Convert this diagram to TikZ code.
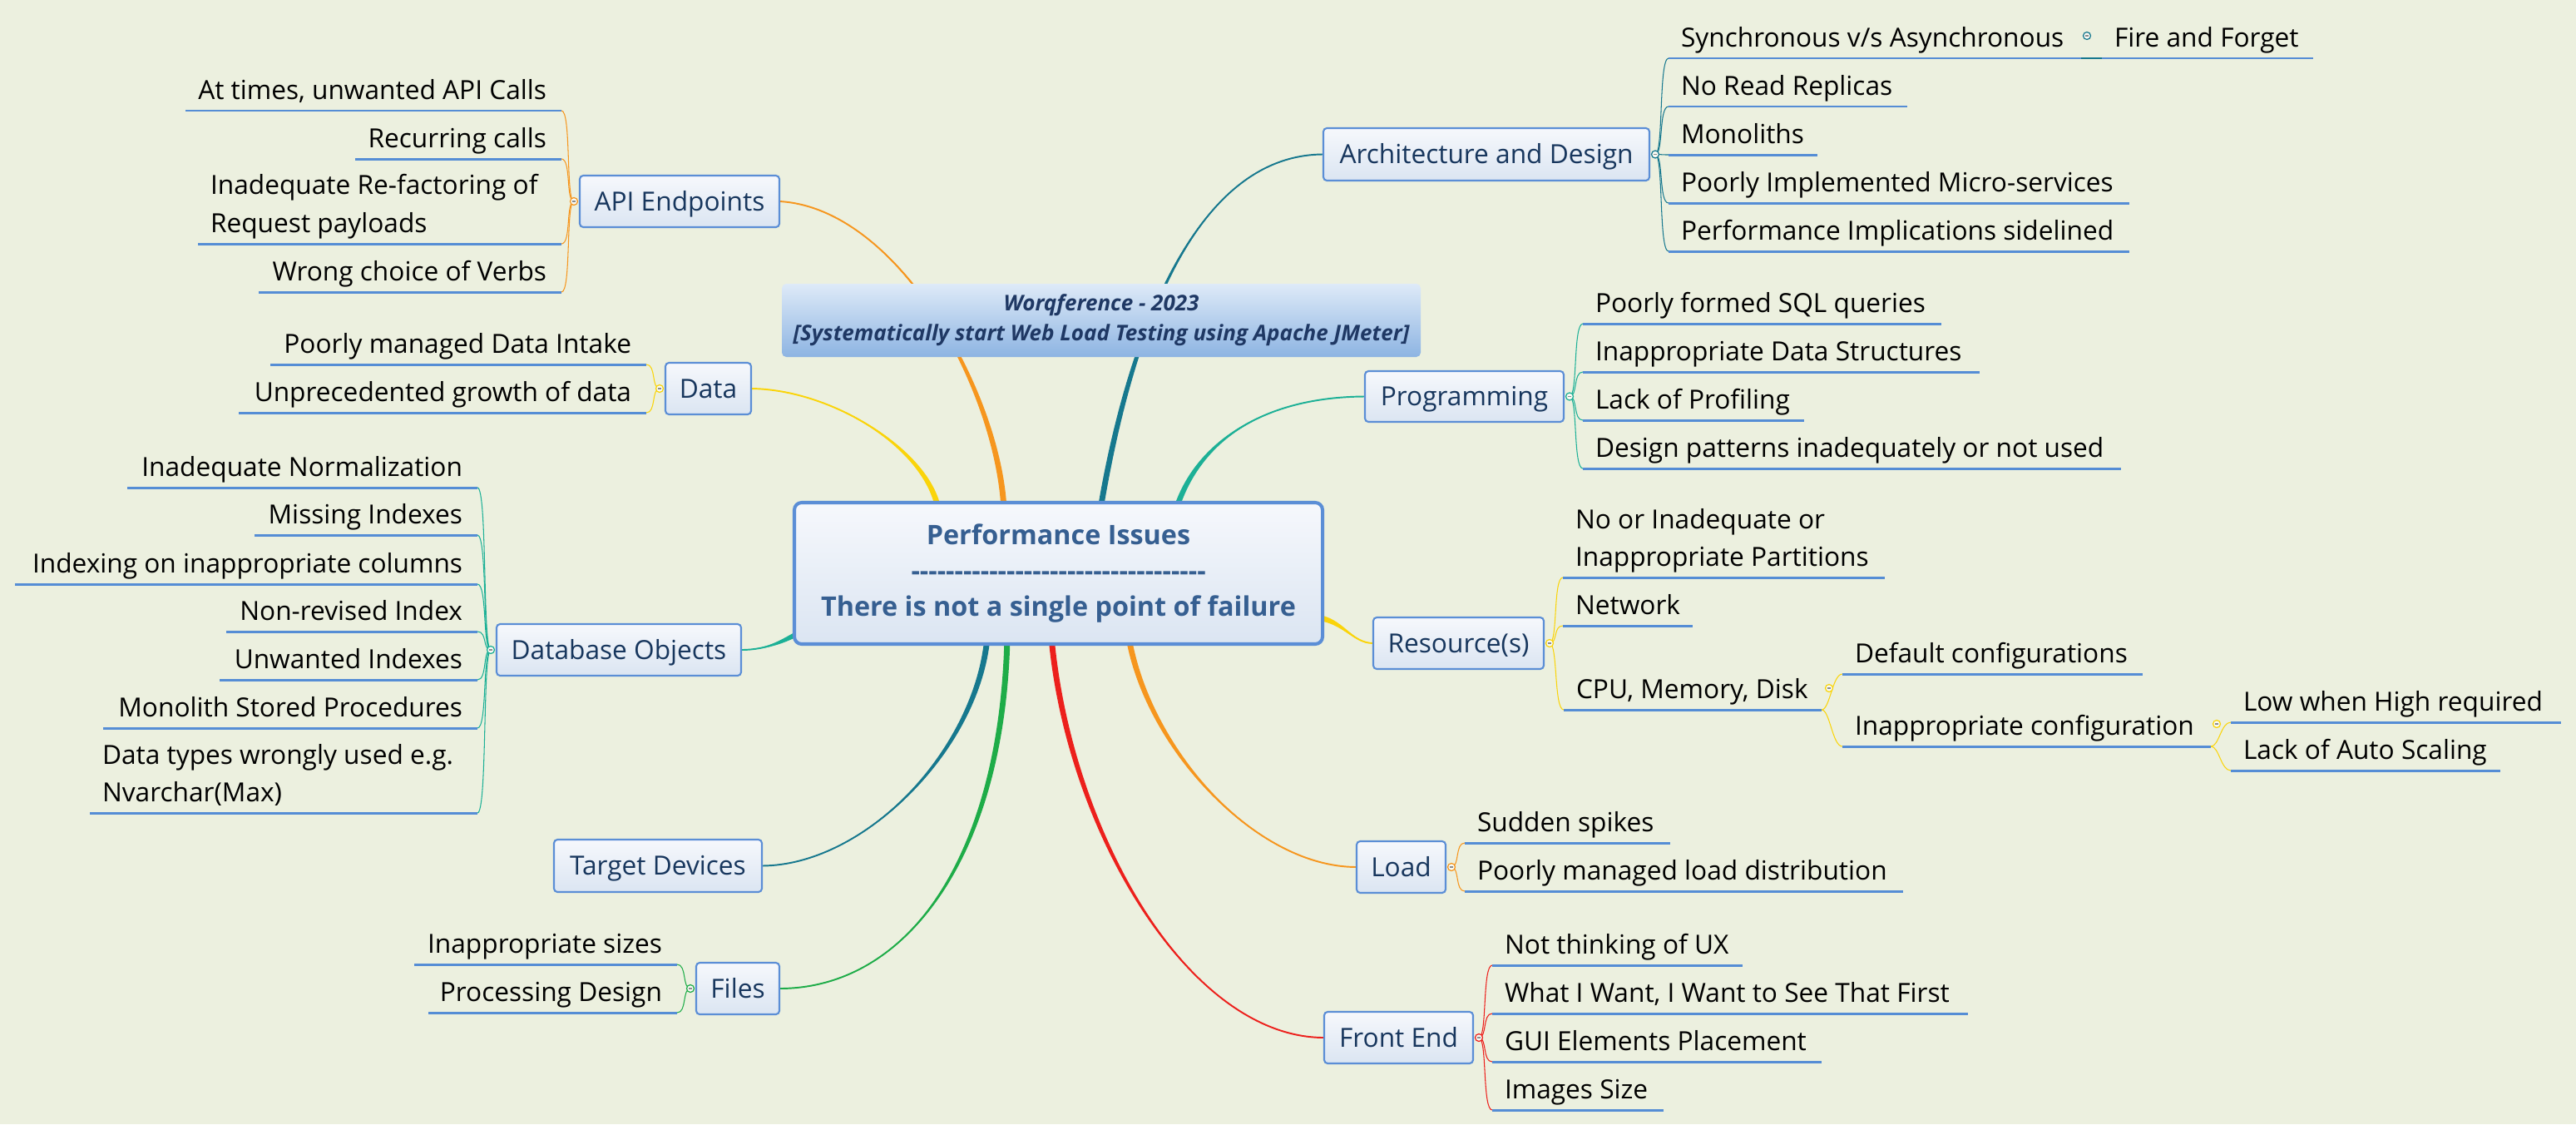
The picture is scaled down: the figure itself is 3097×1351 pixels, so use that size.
\documentclass[tikz,border=0pt]{standalone}
\usepackage{fontspec}
\setmainfont{Open Sans}
\usetikzlibrary{calc}
\definecolor{bgc}{RGB}{236,240,223}
\definecolor{ulblue}{RGB}{85,141,213}
\definecolor{boxblue}{RGB}{91,142,214}
\definecolor{boxtop}{RGB}{246,248,252}
\definecolor{boxbot}{RGB}{219,229,242}
\definecolor{navy}{RGB}{23,54,93}
\definecolor{ctext}{RGB}{54,95,145}
\definecolor{ttop}{RGB}{222,234,248}
\definecolor{tbot}{RGB}{141,180,226}
\definecolor{ttext}{RGB}{31,56,100}
\definecolor{corange}{RGB}{246,150,30}
\definecolor{cyellow}{RGB}{250,212,10}
\definecolor{cdteal}{RGB}{22,120,142}
\definecolor{cteal}{RGB}{28,176,150}
\definecolor{cgreen}{RGB}{30,172,72}
\definecolor{cred}{RGB}{236,32,28}
\definecolor{knobfill}{RGB}{248,250,244}
\pgfdeclarelayer{back}
\pgfdeclarelayer{conn}
\pgfsetlayers{back,conn,main}
\tikzset{
  itemtext/.style={font=\fontsize{9pt}{12.8pt}\selectfont, text=black, inner sep=0pt, outer sep=0pt},
  uline/.style={draw=ulblue, line width=0.85pt},
  thinc/.style={line width=0.3pt},
  branch/.style={draw=boxblue, line width=0.6pt, rounded corners=1.2pt, top color=boxtop, bottom color=boxbot, text=navy, font=\fontsize{9pt}{11pt}\selectfont, text height=6.6pt, text depth=0.3pt, inner sep=0pt, outer sep=0pt},
  centerbox/.style={draw=boxblue, line width=1.15pt, rounded corners=2.5pt, top color=boxtop, bottom color=boxbot, text=ctext, font=\bfseries\fontsize{9.2pt}{12.2pt}\selectfont, inner sep=0pt, outer sep=0pt},
  titlebox/.style={rounded corners=1.5pt, top color=ttop, bottom color=tbot, text=ttext, font=\bfseries\itshape\fontsize{7.4pt}{10.2pt}\selectfont, align=center, inner sep=0pt, outer sep=0pt},
}
\newcommand\two[2]{\begin{tabular}[b]{@{}l@{}}#1\\#2\end{tabular}}
\newcommand\dashline{\foreach \i in {1,...,34}{-\kern0pt}}
% box node: name, x1, y1, x2, y2, text
\newcommand\bnode[6]{\node[branch, minimum width={(#4-#2)*0.01cm}, minimum height={(#5-#3)*0.01cm}] (#1) at ({(#2+#4)/2},{(#3+#5)/2}) {#6};}
% item with text starting at left: name, y, xl, xr, text
\newcommand\itemR[5]{\coordinate (#1-l) at (#3,#2); \coordinate (#1-r) at (#4,#2);
  \draw[uline] (#1-l) -- (#1-r);
  \node[itemtext, anchor=base west] (#1) at (#3+15,#2-14) {#5};}
% item with text ending at right
\newcommand\itemL[5]{\coordinate (#1-l) at (#3,#2); \coordinate (#1-r) at (#4,#2);
  \draw[uline] (#1-l) -- (#1-r);
  \node[itemtext, anchor=base east] (#1) at (#4-18,#2-14) {#5};}
\newcommand\rconn[3]{\draw[#1, thinc] (#2) .. controls ($(#2)+(10,0)$) and ($(#3)+(-12,0)$) .. (#3);}
\newcommand\lconn[3]{\draw[#1, thinc] (#2) .. controls ($(#2)+(-10,0)$) and ($(#3)+(12,0)$) .. (#3);}
\newcommand\knob[2]{\draw[#1, fill=knobfill, line width=0.35pt] (#2) circle[radius=4.5];
  \draw[black!45, line width=0.3pt] ($(#2)+(-2.2,0)$) -- ($(#2)+(2.2,0)$);}
% tapered main connector: color, A, C1, C2, B, offset
\newcommand\taper[6]{%
  \fill[#1] ($(#2)+(#6)$) .. controls ($(#3)+(#6)$) and (#4) .. (#5) .. controls (#4) and ($(#3)-(#6)$) .. ($(#2)-(#6)$) -- cycle;
  \draw[#1, line width=0.55pt] (#2) .. controls (#3) and (#4) .. (#5);}
\begin{document}
\begin{tikzpicture}[x=0.01cm,y=-0.01cm]
\begin{pgfonlayer}{back}
\fill[bgc] (0,0) rectangle (3097,1351);
\end{pgfonlayer}
\useasboundingbox (0,0) rectangle (3097,1351);

% ---------- central and title ----------
\node[centerbox, minimum width={635*0.01cm}, minimum height={170*0.01cm}] (center) at (1272.5,689)
  {\raisebox{-0.9pt}{\begin{tabular}{@{}c@{}}Performance Issues\\\dashline\\There is not a single point of failure\end{tabular}}};
\node[titlebox, minimum width={768*0.01cm}, minimum height={88*0.01cm}] (title) at (1324,385)
  {Worqference - 2023\\{[}Systematically start Web Load Testing using Apache JMeter{]}};

% ---------- branch nodes ----------
\bnode{api}{697}{211}{937}{273}{API Endpoints}
\bnode{arch}{1591}{154}{1983}{217}{Architecture and Design}
\bnode{data}{800}{436}{903}{498}{Data}
\bnode{prog}{1641}{446}{1880}{507}{Programming}
\bnode{db}{597}{750}{891}{812}{Database Objects}
\bnode{res}{1651}{742}{1856}{804}{Resource(s)}
\bnode{tgt}{666}{1009}{916}{1072}{Target Devices}
\bnode{load}{1631}{1011}{1738}{1073}{Load}
\bnode{files}{837}{1157}{937}{1219}{Files}
\bnode{fe}{1592}{1216}{1771}{1278}{Front End}

% ---------- items ----------
\itemL{a1}{133}{223}{675}{At times, unwanted API Calls}
\itemL{a2}{191}{427}{675}{Recurring calls}
\itemR{a3}{293}{238}{675}{\two{Inadequate Re-factoring of}{Request payloads}}
\itemL{a4}{351}{311}{675}{Wrong choice of Verbs}

\itemL{d1}{438}{325}{777}{Poorly managed Data Intake}
\itemL{d2}{496}{287}{777}{Unprecedented growth of data}

\itemL{db1}{586}{153}{574}{Inadequate Normalization}
\itemL{db2}{643}{306}{574}{Missing Indexes}
\itemL{db3}{702}{18}{574}{Indexing on inappropriate columns}
\itemL{db4}{759}{272}{574}{Non-revised Index}
\itemL{db5}{817}{264}{574}{Unwanted Indexes}
\itemL{db6}{875}{124}{574}{Monolith Stored Procedures}
\itemR{db7}{977}{108}{574}{\two{Data types wrongly used e.g.}{Nvarchar(Max)}}

\itemL{f1}{1159}{498}{814}{Inappropriate sizes}
\itemL{f2}{1217}{515}{814}{Processing Design}

\itemR{ar1}{70}{2006}{2502}{Synchronous v/s Asynchronous}
\itemR{ff}{70}{2527}{2781}{Fire and Forget}
\itemR{ar2}{128}{2006}{2293}{No Read Replicas}
\itemR{ar3}{186}{2006}{2185}{Monoliths}
\itemR{ar4}{244}{2006}{2560}{Poorly Implemented Micro-services}
\itemR{ar5}{302}{2006}{2560}{Performance Implications sidelined}

\itemR{p1}{389}{1903}{2334}{Poorly formed SQL queries}
\itemR{p2}{447}{1903}{2380}{Inappropriate Data Structures}
\itemR{p3}{505}{1903}{2169}{Lack of Profiling}
\itemR{p4}{563}{1903}{2550}{Design patterns inadequately or not used}

\itemR{r1}{694}{1879}{2266}{\two{No or Inadequate or}{Inappropriate Partitions}}
\itemR{r2}{752}{1879}{2035}{Network}
\itemR{r3}{853}{1880}{2190}{CPU, Memory, Disk}
\itemR{r31}{810}{2215}{2576}{Default configurations}
\itemR{r32}{897}{2215}{2658}{Inappropriate configuration}
\itemR{r321}{868}{2682}{3079}{Low when High required}
\itemR{r322}{926}{2682}{3006}{Lack of Auto Scaling}

\itemR{l1}{1013}{1761}{2008}{Sudden spikes}
\itemR{l2}{1071}{1761}{2288}{Poorly managed load distribution}

\itemR{fe1}{1160}{1794}{2095}{Not thinking of UX}
\itemR{fe2}{1218}{1794}{2366}{What I Want, I Want to See That First}
\itemR{fe3}{1276}{1794}{2190}{GUI Elements Placement}
\itemR{fe4}{1334}{1794}{2000}{Images Size}

% ---------- anchor points ----------
\coordinate (oApi) at (1207,612);
\coordinate (oData) at (1128,612);
\coordinate (oArch) at (1323,612);
\coordinate (oProg) at (1414,612);
\coordinate (oRes) at (1582,742);
\coordinate (oDb) at (962,760);
\coordinate (oTgt) at (1187,766);
\coordinate (oFiles) at (1211,766);
\coordinate (oFe) at (1264,766);
\coordinate (oLoad) at (1357,766);
\coordinate (kApi) at ($(api.west)+(-7,0)$);
\coordinate (kData) at ($(data.west)+(-7,0)$);
\coordinate (kDb) at ($(db.west)+(-7,0)$);
\coordinate (kFiles) at ($(files.west)+(-7,0)$);
\coordinate (kArch) at ($(arch.east)+(7,0)$);
\coordinate (kProg) at ($(prog.east)+(7,0)$);
\coordinate (kRes) at ($(res.east)+(7,0)$);
\coordinate (kLoad) at ($(load.east)+(7,0)$);
\coordinate (kFe) at ($(fe.east)+(7,0)$);

\begin{pgfonlayer}{conn}
% main tapered connectors
\taper{corange}{oApi}{1200,470}{1080,250}{api.east}{3.5,0}
\taper{cyellow}{oData}{1115,540}{1000,468}{data.east}{3.5,0}
\taper{cdteal}{oArch}{1350,450}{1420,186}{arch.west}{3.5,0}
\taper{cteal}{oProg}{1440,530}{1520,477}{prog.west}{3.5,0}
\taper{cyellow}{oRes}{1615,745}{1625,773}{res.west}{0,3.5}
\taper{cteal}{oDb}{945,768}{925,781}{db.east}{0,3.5}
\taper{cdteal}{oTgt}{1175,900}{1040,1040}{tgt.east}{3.5,0}
\taper{cgreen}{oFiles}{1205,1030}{1090,1188}{files.east}{3.5,0}
\taper{cred}{oFe}{1285,1000}{1430,1247}{fe.west}{3.5,0}
\taper{corange}{oLoad}{1380,900}{1510,1042}{load.west}{3.5,0}

% sub connectors
\foreach \n in {a1,a2,a3,a4}{\lconn{corange}{kApi}{\n-r}}
\foreach \n in {d1,d2}{\lconn{cyellow}{kData}{\n-r}}
\foreach \n in {db1,db2,db3,db4,db5,db6,db7}{\lconn{cteal}{kDb}{\n-r}}
\foreach \n in {f1,f2}{\lconn{cgreen}{kFiles}{\n-r}}
\foreach \n in {ar1,ar2,ar3,ar4,ar5}{\rconn{cdteal}{kArch}{\n-l}}
\draw[cdteal, thinc] (ar1-r) -- (ff-l);
\foreach \n in {p1,p2,p3,p4}{\rconn{cteal}{kProg}{\n-l}}
\foreach \n in {r1,r2,r3}{\rconn{cyellow}{kRes}{\n-l}}
\foreach \n in {r31,r32}{\rconn{cyellow}{r3-r}{\n-l}}
\foreach \n in {r321,r322}{\rconn{cyellow}{r32-r}{\n-l}}
\foreach \n in {l1,l2}{\rconn{corange}{kLoad}{\n-l}}
\foreach \n in {fe1,fe2,fe3,fe4}{\rconn{cred}{kFe}{\n-l}}
\end{pgfonlayer}

% knobs
\knob{corange}{kApi}
\knob{cyellow}{kData}
\knob{cteal}{kDb}
\knob{cgreen}{kFiles}
\knob{cdteal}{kArch}
\knob{cteal}{kProg}
\knob{cyellow}{kRes}
\knob{corange}{kLoad}
\knob{cred}{kFe}
\knob{cdteal}{2509,43}
\knob{cyellow}{2199,827}
\knob{cyellow}{2665,870}
\end{tikzpicture}
\end{document}
